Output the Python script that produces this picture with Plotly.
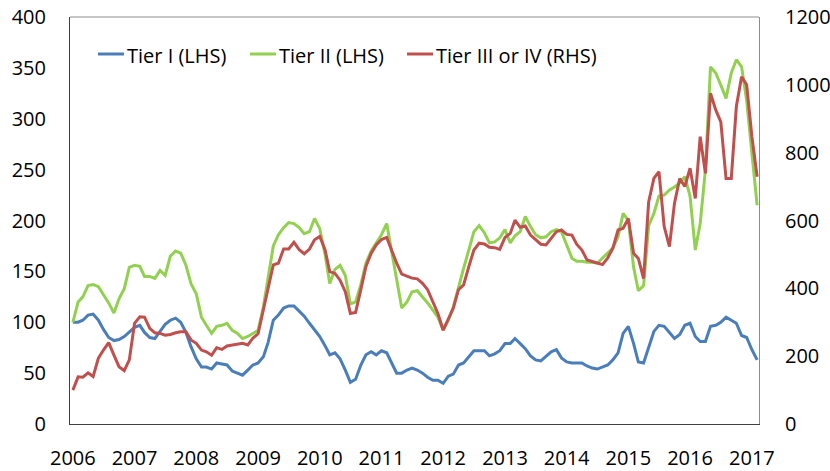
import pandas as pd
import plotly.graph_objects as go

start_month = "2006-01-01"
year_labels = [str(y) for y in range(2006, 2018)]
series_names = ["Tier I (LHS)", "Tier II (LHS)", "Tier III or IV (RHS)"]

tier1 = [100, 100, 102, 107, 108, 102, 93, 85, 82, 83, 86, 90,
         95, 97, 90, 85, 84, 91, 98, 102, 104, 100, 90, 76,
         64, 56, 56, 54, 60, 59, 58, 52, 50, 48, 53, 58,
         60, 66, 80, 102, 107, 114, 116, 116, 111, 106, 99, 93,
         86, 77, 68, 70, 64, 53, 41, 44, 58, 68, 71, 68,
         72, 70, 60, 50, 50, 53, 55, 53, 50, 46, 43, 43,
         40, 47, 49, 58, 60, 66, 72, 72, 72, 67, 69, 72,
         79, 79, 84, 79, 74, 67, 63, 62, 67, 71, 73, 65,
         61, 60, 60, 60, 57, 55, 54, 56, 58, 63, 70, 89,
         96, 79, 61, 60, 76, 91, 97, 96, 90, 84, 88, 97,
         99, 86, 81, 81, 96, 97, 100, 105, 102, 99, 87, 85,
         73, 63]

tier2 = [100, 120, 125, 136, 137, 135, 127, 119, 109, 123, 133, 154,
         156, 155, 145, 145, 143, 151, 146, 165, 170, 168, 156, 138,
         128, 105, 97, 89, 96, 97, 99, 92, 89, 84, 86, 89,
         92, 115, 143, 175, 186, 193, 198, 197, 193, 187, 189, 202,
         192, 167, 138, 152, 156, 146, 118, 120, 137, 158, 170, 178,
         186, 197, 171, 138, 114, 120, 130, 131, 125, 119, 112, 105,
         92, 102, 115, 135, 153, 171, 189, 195, 188, 178, 179, 183,
         191, 178, 185, 189, 204, 194, 186, 183, 184, 189, 191, 189,
         176, 163, 160, 160, 159, 159, 158, 163, 168, 173, 184, 207,
         200, 154, 131, 136, 195, 207, 224, 225, 230, 233, 237, 243,
         224, 171, 197, 250, 351, 345, 333, 320, 345, 358, 351, 318,
         266, 215]

tier3 = [100, 139, 138, 151, 140, 194, 218, 240, 203, 169, 157, 189,
         297, 316, 315, 282, 269, 267, 262, 264, 269, 272, 272, 248,
         238, 218, 213, 203, 225, 220, 230, 233, 236, 238, 233, 253,
         266, 337, 396, 469, 474, 516, 516, 536, 514, 502, 516, 543,
         553, 514, 449, 444, 424, 390, 326, 329, 396, 464, 503, 528,
         544, 550, 514, 474, 442, 436, 430, 428, 415, 396, 361, 326,
         277, 311, 341, 396, 410, 464, 513, 533, 531, 521, 520, 515,
         550, 562, 601, 580, 584, 557, 544, 530, 528, 547, 567, 572,
         559, 557, 530, 513, 484, 479, 474, 470, 490, 518, 572, 577,
         606, 503, 488, 429, 655, 724, 744, 582, 523, 651, 724, 700,
         754, 665, 847, 739, 975, 926, 891, 724, 724, 936, 1024, 1000,
         847, 729]

colors = ["#4A7EBB", "#92D050", "#C0504D"]

dates = pd.date_range(start_month, periods=len(tier1), freq="MS")
tick_dates = pd.date_range("2006-01-01", periods=len(year_labels), freq="YS")

fig = go.Figure()
fig.add_trace(go.Scatter(x=dates, y=tier1, name=series_names[0], mode="lines",
                         line=dict(color=colors[0], width=3), showlegend=False))
fig.add_trace(go.Scatter(x=dates, y=tier2, name=series_names[1], mode="lines",
                         line=dict(color=colors[1], width=3), showlegend=False))
fig.add_trace(go.Scatter(x=dates, y=tier3, name=series_names[2], mode="lines", yaxis="y2",
                         line=dict(color=colors[2], width=3), showlegend=False))

font = dict(family="Open Sans, Noto Sans, sans-serif", size=20, color="#000000")

W, H = 830, 471
L, R, T, B = 70, 759, 17, 424

def px_x(p):
    return (p - L) / (R - L)

def px_y(p):
    return (B - p) / (B - T)

# custom legend (sample line + label), laid out like the original
legend_items = [(98, 124, 125), (250, 276, 277), (407, 433, 434)]
for (x0, x1, xt), name, col in zip(legend_items, series_names, colors):
    fig.add_shape(type="line", xref="paper", yref="paper",
                  x0=px_x(x0), x1=px_x(x1), y0=px_y(54), y1=px_y(54),
                  line=dict(color=col, width=3))
    fig.add_annotation(xref="paper", yref="paper", x=px_x(xt), y=px_y(56),
                       text=name, showarrow=False, xanchor="left", yanchor="middle",
                       font=font)

# top frame line
fig.add_shape(type="line", xref="paper", yref="paper", x0=0, x1=1, y0=1, y1=1,
              line=dict(color="#8c8c8c", width=1))

fig.update_layout(
    width=W, height=H,
    margin=dict(l=L, r=W - R, t=T, b=H - B, pad=0, autoexpand=False),
    paper_bgcolor="white", plot_bgcolor="white",
    font=font,
    xaxis=dict(type="date", range=["2005-12-15", "2017-02-12"],
               tickvals=tick_dates, ticktext=year_labels, automargin=False,
               ticklabeloverflow="allow",
               showgrid=False, zeroline=False, showline=True,
               linecolor="#404040", linewidth=1, ticks="",
               ticklabelstandoff=16, tickfont=font),
    yaxis=dict(range=[0, 400], dtick=50, showgrid=False, zeroline=False,
               automargin=False, ticklabeloverflow="allow",
               showline=True, linecolor="#404040", linewidth=1, ticks="",
               ticklabelstandoff=19, tickfont=font),
    yaxis2=dict(range=[0, 1200], dtick=200, overlaying="y", side="right",
                automargin=False, ticklabeloverflow="allow",
                showgrid=False, zeroline=False, showline=True,
                linecolor="#8c8c8c", linewidth=1, ticks="",
                ticklabelstandoff=21, tickfont=font),
)

fig.write_html("out.html",
               config={"displayModeBar": False},
               post_script="document.body.style.margin='0';document.body.style.overflow='hidden';")
